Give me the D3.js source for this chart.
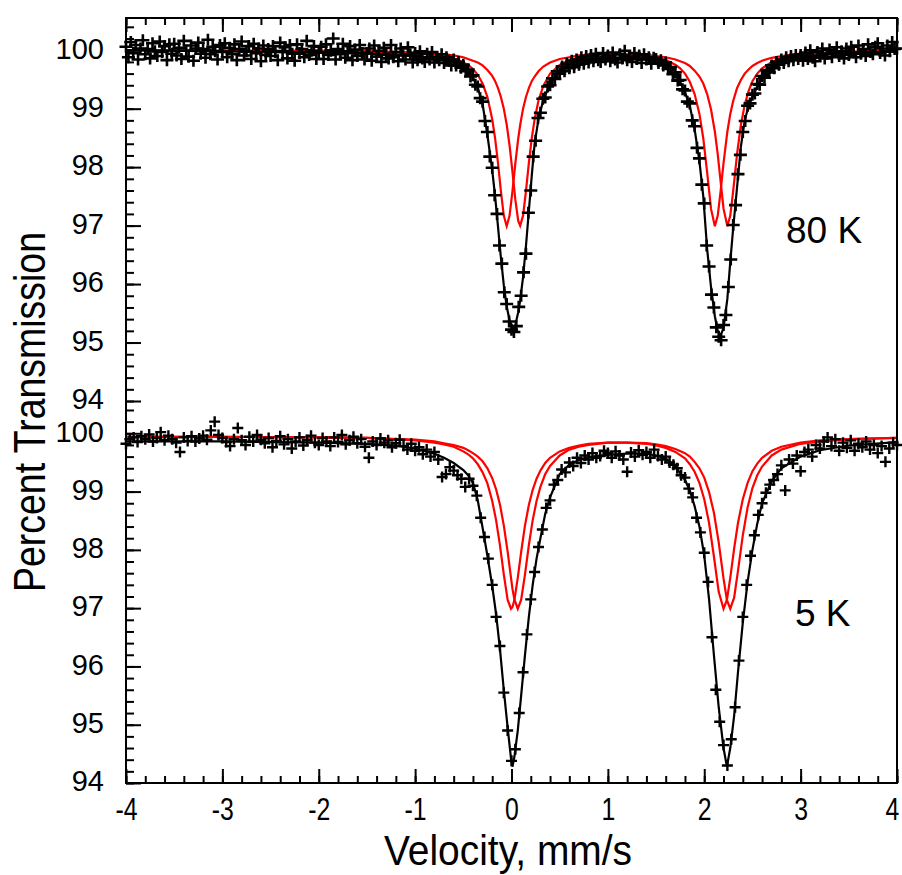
<!DOCTYPE html>
<html>
<head>
<meta charset="utf-8">
<script src="https://cdn.jsdelivr.net/npm/d3@7"></script>
<style>
  body { margin: 0; background: #fff; }
</style>
</head>
<body>
<div class="chart-area"></div>
<script>
// --- tick labels / panel labels
let velocityTicks = [-4, -3, -2, -1, 0, 1, 2, 3, 4];
let transmissionTicks = [94, 95, 96, 97, 98, 99, 100];
let panelLabels = ["80 K", "5 K"];

// --- 80 K spectrum: measured channels, start -4 mm/s, step 0.025 mm/s
let topStart = -4, topStep = 0.025;
let topCounts = [
  100.06, 99.88, 100.14, 99.95, 100.09, 99.84, 100.03, 100.17, 99.93, 100.02, 99.86, 100.12, 99.98, 99.90, 100.15, 99.97, 100.07, 99.83, 100.10, 99.94,
  100.11, 99.91, 100.04, 99.85, 100.16, 99.99, 99.89, 100.08, 99.82, 100.03, 100.13, 99.94, 100.02, 99.87, 100.18, 99.93, 100.06, 99.98, 99.84, 100.09,
  99.97, 100.12, 99.88, 100.04, 99.93, 100.10, 99.83, 100.02, 100.15, 99.91, 99.98, 100.07, 99.85, 100.11, 99.95, 100.03, 99.81, 100.08, 99.92, 100.02,
  99.90, 100.07, 99.97, 99.83, 100.13, 99.98, 100.05, 99.86, 100.09, 99.94, 99.82, 100.10, 99.95, 100.02, 99.88, 100.16, 99.92, 99.99, 100.07, 99.85,
  99.96, 100.06, 99.85, 100.10, 99.92, 99.99, 100.20, 99.84, 100.02, 99.93, 100.11, 99.87, 99.98, 100.07, 99.83, 100.01, 99.90, 100.09, 99.95, 99.84,
  99.95, 100.03, 99.82, 100.08, 99.89, 99.99, 99.80, 100.04, 99.92, 99.86, 100.09, 99.88, 99.97, 99.81, 100.03, 99.91, 99.84, 100.05, 99.93, 99.79,
  99.95, 99.83, 99.98, 99.86, 99.80, 99.94, 99.84, 99.97, 99.79, 99.88, 99.83, 99.93, 99.78, 99.88, 99.82, 99.74, 99.84, 99.74, 99.80, 99.70,
  99.75, 99.64, 99.67, 99.55, 99.57, 99.41, 99.38, 99.18, 99.12, 98.79, 98.60, 98.18, 97.99, 97.52, 97.20, 96.66, 96.35, 95.86, 95.66, 95.36,
  95.22, 95.18, 95.28, 95.61, 95.80, 96.20, 96.52, 97.22, 97.60, 98.18, 98.45, 98.84, 98.93, 99.17, 99.19, 99.38, 99.40, 99.52, 99.51, 99.64,
  99.60, 99.72, 99.64, 99.77, 99.69, 99.82, 99.71, 99.84, 99.75, 99.88, 99.77, 99.90, 99.79, 99.92, 99.81, 99.94, 99.83, 99.80, 99.95, 99.84,
  99.91, 99.81, 99.96, 99.84, 99.79, 99.93, 99.86, 99.99, 99.83, 99.89, 99.80, 99.95, 99.85, 99.91, 99.78, 99.93, 99.84, 99.88, 99.77, 99.87,
  99.85, 99.78, 99.83, 99.74, 99.79, 99.68, 99.71, 99.59, 99.62, 99.48, 99.49, 99.33, 99.31, 99.12, 99.09, 98.80, 98.70, 98.33, 98.15, 97.70,
  97.38, 96.66, 96.30, 95.82, 95.60, 95.26, 95.10, 95.04, 95.30, 95.47, 95.95, 96.42, 97.01, 97.35, 97.88, 98.21, 98.60, 98.79, 99.05, 99.09,
  99.24, 99.26, 99.42, 99.41, 99.56, 99.53, 99.66, 99.62, 99.74, 99.69, 99.80, 99.75, 99.84, 99.78, 99.88, 99.81, 99.90, 99.83, 99.92, 99.85,
  99.92, 99.82, 99.96, 99.85, 100.00, 99.87, 99.81, 99.97, 99.90, 100.03, 99.86, 99.94, 100.01, 99.88, 99.97, 100.05, 99.90, 99.98, 99.86, 100.03,
  99.92, 100.06, 99.96, 99.88, 100.08, 99.94, 100.02, 99.90, 100.10, 99.97, 99.93, 100.06, 100.12, 99.95, 100.03, 99.91, 100.08, 99.98, 100.14, 100.02,
  100.03
];

// --- 80 K fit curves (at these velocities)
let topFitVelocity = [-4, -3, -2, -1.5, -1.2, -1, -0.8, -0.7, -0.6, -0.5, -0.45, -0.4, -0.35, -0.3, -0.25, -0.2, -0.17, -0.14, -0.11, -0.08,
  -0.05, -0.02, 0.01, 0.04, 0.07, 0.09, 0.12, 0.15, 0.18, 0.21, 0.24, 0.28, 0.33, 0.4, 0.5, 0.6, 0.7, 0.8, 1.0, 1.2,
  1.4, 1.5, 1.6, 1.7, 1.75, 1.8, 1.85, 1.9, 1.95, 1.99, 2.03, 2.07, 2.11, 2.14, 2.17, 2.2, 2.24, 2.27, 2.3, 2.34,
  2.38, 2.42, 2.46, 2.5, 2.55, 2.6, 2.7, 2.8, 3.0, 3.2, 3.5, 4];
let topFitTotal = [100.00, 99.98, 99.96, 99.94, 99.92, 99.90, 99.87, 99.85, 99.81, 99.72, 99.64, 99.53, 99.36, 99.08, 98.55, 97.95, 97.50, 96.98, 96.45, 95.98,
  95.62, 95.38, 95.26, 95.30, 95.52, 95.72, 96.12, 96.65, 97.25, 97.85, 98.40, 98.82, 99.15, 99.42, 99.65, 99.76, 99.82, 99.85, 99.87, 99.87,
  99.85, 99.82, 99.76, 99.58, 99.45, 99.28, 99.05, 98.65, 98.10, 97.50, 96.60, 95.95, 95.45, 95.20, 95.12, 95.25, 95.75, 96.38, 96.95, 97.65,
  98.35, 98.80, 99.05, 99.20, 99.38, 99.52, 99.70, 99.80, 99.88, 99.92, 99.95, 99.98];
let topSiteA = [100.00, 99.99, 99.99, 99.98, 99.96, 99.95, 99.92, 99.90, 99.86, 99.79, 99.75, 99.68, 99.58, 99.43, 99.20, 98.82, 98.49, 98.07, 97.59, 97.17,
  96.99, 97.17, 97.59, 98.07, 98.49, 98.72, 99.00, 99.20, 99.35, 99.47, 99.55, 99.64, 99.72, 99.79, 99.85, 99.88, 99.91, 99.92, 99.93, 99.92,
  99.90, 99.87, 99.83, 99.75, 99.69, 99.60, 99.46, 99.25, 98.91, 98.49, 97.91, 97.29, 96.99, 97.17, 97.59, 98.07, 98.61, 98.91, 99.13, 99.35,
  99.49, 99.60, 99.67, 99.73, 99.78, 99.82, 99.87, 99.90, 99.94, 99.96, 99.97, 99.99];
let topSiteB = [100.00, 99.99, 99.99, 99.98, 99.97, 99.96, 99.94, 99.93, 99.91, 99.88, 99.85, 99.82, 99.79, 99.74, 99.66, 99.56, 99.47, 99.35, 99.20, 99.00,
  98.73, 98.37, 97.92, 97.44, 97.08, 97.00, 97.17, 97.59, 98.07, 98.49, 98.82, 99.14, 99.39, 99.60, 99.75, 99.83, 99.87, 99.90, 99.92, 99.93,
  99.92, 99.90, 99.88, 99.84, 99.81, 99.78, 99.73, 99.65, 99.55, 99.43, 99.25, 98.99, 98.61, 98.22, 97.75, 97.29, 96.99, 97.17, 97.59, 98.22,
  98.72, 99.07, 99.30, 99.47, 99.60, 99.69, 99.80, 99.86, 99.92, 99.95, 99.97, 99.98];

// --- 5 K spectrum: measured channels, start -4 mm/s, step 0.04 mm/s
let botStart = -4, botStep = 0.04;
let botCounts = [
  99.82, 99.90, 99.93, 99.85, 99.95, 99.90, 99.98, 99.86, 99.92, 100.02, 99.88, 99.96, 99.90, 99.84, 99.68, 99.93, 99.87, 99.95, 99.86, 99.91, 99.96, 99.89, 100.05, 100.20, 99.97,
  99.92, 99.85, 99.78, 99.90, 100.09, 99.88, 99.80, 99.94, 99.86, 99.97, 99.89, 99.83, 99.92, 99.76, 99.87, 99.95, 99.81, 99.90, 99.74, 99.86, 99.93, 99.79, 99.88, 99.96, 99.84,
  99.80, 99.92, 99.86, 99.78, 99.93, 99.85, 99.97, 99.81, 99.88, 99.94, 99.83, 99.90, 99.77, 99.58, 99.86, 99.80, 99.91, 99.84, 99.88, 99.76, 99.83, 99.89, 99.78, 99.72, 99.82,
  99.70, 99.76, 99.64, 99.72, 99.60, 99.68, 99.55, 99.25, 99.30, 99.42, 99.36, 99.28, 99.22, 99.08, 99.22, 99.10, 98.93, 98.55, 98.22, 97.85, 97.40, 96.85, 96.35, 95.55, 94.90,
  94.38, 94.58, 95.20, 95.90, 96.55, 97.15, 97.62, 98.05, 98.35, 98.72, 98.85, 99.12, 99.20, 99.38, 99.33, 99.50, 99.44, 99.58, 99.49, 99.62, 99.55, 99.66, 99.58, 99.61, 99.70,
  99.66, 99.58, 99.69, 99.62, 99.55, 99.34, 99.67, 99.60, 99.71, 99.63, 99.68, 99.58, 99.72, 99.61, 99.55, 99.60, 99.50, 99.46, 99.40, 99.28, 99.24, 99.05, 98.90, 98.55, 98.30,
  97.95, 97.45, 96.50, 95.60, 95.05, 94.65, 94.30, 94.75, 95.30, 96.10, 96.85, 97.40, 97.90, 98.25, 98.60, 98.80, 98.98, 99.12, 99.20, 99.30, 99.45, 99.02, 99.55, 99.48, 99.62,
  99.35, 99.68, 99.72, 99.60, 99.80, 99.74, 99.86, 99.93, 99.78, 99.90, 99.70, 99.84, 99.75, 99.88, 99.70, 99.82, 99.76, 99.86, 99.72, 99.80, 99.66, 99.78, 99.51, 99.74, 99.84,
  99.80
];

// --- 5 K fit curves
let botFitVelocity = [-4, -3, -2, -1.5, -1.2, -1, -0.8, -0.7, -0.6, -0.5, -0.45, -0.4, -0.35, -0.3, -0.25, -0.2, -0.16, -0.12, -0.08, -0.04,
  -0.005, 0.01, 0.03, 0.065, 0.1, 0.14, 0.18, 0.22, 0.26, 0.3, 0.35, 0.4, 0.5, 0.6, 0.7, 0.8, 1.0, 1.2, 1.4, 1.5,
  1.6, 1.7, 1.8, 1.85, 1.9, 1.95, 2.0, 2.05, 2.1, 2.15, 2.2, 2.235, 2.27, 2.31, 2.35, 2.4, 2.45, 2.5, 2.55, 2.6,
  2.7, 2.8, 3.0, 3.2, 3.5, 4];
let botFitTotal = [99.86, 99.86, 99.84, 99.82, 99.79, 99.74, 99.65, 99.58, 99.49, 99.37, 99.28, 99.15, 98.85, 98.38, 97.90, 97.38, 96.90, 96.30, 95.60, 94.95,
  94.42, 94.28, 94.45, 94.90, 95.50, 96.20, 96.85, 97.40, 97.85, 98.20, 98.62, 98.90, 99.30, 99.46, 99.54, 99.59, 99.63, 99.65, 99.65, 99.62,
  99.57, 99.43, 99.20, 99.02, 98.75, 98.40, 97.90, 97.15, 96.20, 95.30, 94.60, 94.28, 94.60, 95.15, 95.90, 96.75, 97.45, 98.00, 98.45, 98.80,
  99.18, 99.40, 99.60, 99.71, 99.79, 99.85];
let botSiteA = [99.94, 99.94, 99.93, 99.92, 99.90, 99.88, 99.84, 99.81, 99.77, 99.69, 99.64, 99.57, 99.47, 99.33, 99.14, 98.84, 98.51, 98.08, 97.58, 97.14,
  96.99, 97.02, 97.14, 97.52, 97.96, 98.42, 98.77, 99.03, 99.22, 99.36, 99.49, 99.58, 99.69, 99.75, 99.79, 99.82, 99.84, 99.84, 99.82, 99.79,
  99.75, 99.68, 99.57, 99.47, 99.34, 99.15, 98.87, 98.46, 97.89, 97.28, 96.99, 97.14, 97.52, 98.02, 98.46, 98.87, 99.15, 99.35, 99.48, 99.58,
  99.70, 99.77, 99.84, 99.88, 99.90, 99.92];
let botSiteB = [99.94, 99.94, 99.93, 99.92, 99.90, 99.89, 99.86, 99.83, 99.80, 99.75, 99.71, 99.66, 99.60, 99.52, 99.40, 99.23, 99.04, 98.78, 98.42, 97.97,
  97.52, 97.33, 97.15, 96.99, 97.14, 97.58, 98.08, 98.51, 98.84, 99.08, 99.30, 99.44, 99.62, 99.72, 99.77, 99.80, 99.84, 99.84, 99.83, 99.81,
  99.78, 99.73, 99.66, 99.60, 99.51, 99.40, 99.24, 98.99, 98.64, 98.13, 97.51, 97.14, 96.99, 97.18, 97.64, 98.25, 98.73, 99.06, 99.28, 99.43,
  99.62, 99.72, 99.82, 99.86, 99.90, 99.92];

let width = 902, height = 875;
let plotLeft = 126, plotRight = 897, plotTop = 18, plotBottom = 783;
let font = '"Liberation Sans", Arial, sans-serif';

let svg = d3.select("div.chart-area").append("svg")
  .attr("width", width)
  .attr("height", height);

let x = d3.scaleLinear().domain([-4, 4]).range([plotLeft, plotRight]);
let yTop = d3.scaleLinear().domain([94, 100]).range([401, 50.2]);
let yBot = d3.scaleLinear().domain([94, 100]).range([plotBottom, 433.3]);

function zip(vs, ts) { return vs.map((v, i) => [v, ts[i]]); }

// narrow look: squeeze the measured text width
function squeeze(sel, k) {
  sel.each(function() {
    let w = this.getComputedTextLength();
    d3.select(this).attr("textLength", w * k).attr("lengthAdjust", "spacingAndGlyphs");
  });
}

function drawPanel(y, fitV, siteA, siteB, total, start, step, counts, armW, armH, sw) {
  let line = d3.line()
    .x(d => x(d[0]))
    .y(d => y(d[1]));

  [siteA, siteB].forEach(function(s) {
    svg.append("path")
      .attr("d", line(zip(fitV, s)))
      .attr("fill", "none")
      .attr("stroke", "#ff0000")
      .attr("stroke-width", 2.2);
  });

  svg.append("path")
    .attr("d", line(zip(fitV, total)))
    .attr("fill", "none")
    .attr("stroke", "#000")
    .attr("stroke-width", 2.2);

  let pts = counts.map((t, i) => [start + i * step, t]);
  svg.append("g").selectAll("path")
    .data(pts)
    .enter().append("path")
    .attr("transform", d => "translate(" + x(d[0]) + "," + y(d[1]) + ")")
    .attr("d", "M" + (-armW) + ",0H" + armW + "M0," + (-armH) + "V" + armH)
    .attr("stroke", "#000")
    .attr("stroke-width", sw)
    .attr("fill", "none");
}

drawPanel(yTop, topFitVelocity, topSiteA, topSiteB, topFitTotal, topStart, topStep, topCounts, 6.5, 6, 2.6);
drawPanel(yBot, botFitVelocity, botSiteA, botSiteB, botFitTotal, botStart, botStep, botCounts, 5.5, 5.5, 2.4);

// --- frame
svg.append("rect")
  .attr("x", plotLeft).attr("y", plotTop)
  .attr("width", plotRight - plotLeft).attr("height", plotBottom - plotTop)
  .attr("fill", "none")
  .attr("stroke", "#000")
  .attr("stroke-width", 2);

function cleanTicks(g) {
  g.select(".domain").remove();
  g.selectAll("line").attr("stroke", "#000").attr("stroke-width", 2);
}

let xMinor = d3.range(41).map(i => -4 + i * 0.2);

// bottom ticks (pointing up) and top ticks (pointing down)
svg.append("g").attr("transform", "translate(0," + plotBottom + ")")
  .call(d3.axisTop(x).tickValues(xMinor).tickSize(7).tickFormat(""))
  .call(cleanTicks);
svg.append("g").attr("transform", "translate(0," + plotBottom + ")")
  .call(d3.axisTop(x).tickValues(velocityTicks).tickSize(14).tickFormat(""))
  .call(cleanTicks);
svg.append("g").attr("transform", "translate(0," + plotTop + ")")
  .call(d3.axisBottom(x).tickValues(xMinor).tickSize(7).tickFormat(""))
  .call(cleanTicks);
svg.append("g").attr("transform", "translate(0," + plotTop + ")")
  .call(d3.axisBottom(x).tickValues(velocityTicks).tickSize(14).tickFormat(""))
  .call(cleanTicks);

// x labels
let xLabels = svg.append("g").attr("transform", "translate(0," + plotBottom + ")")
  .call(d3.axisBottom(x).tickValues(velocityTicks).tickSize(0).tickPadding(15).tickFormat(d => String(d)))
  .call(g => g.select(".domain").remove())
  .selectAll("text")
  .attr("font-family", font)
  .attr("font-size", 31)
  .attr("fill", "#000")
  .attr("dx", d => d === 4 ? -5 : 0);
squeeze(xLabels, 0.8);

// y ticks and labels for both panels
[yTop, yBot].forEach(function(y) {
  let minor = d3.range(33).map(i => 94 + i * 0.2);
  svg.append("g").attr("transform", "translate(" + plotLeft + ",0)")
    .call(d3.axisRight(y).tickValues(minor).tickSize(8).tickFormat(""))
    .call(cleanTicks);
  svg.append("g").attr("transform", "translate(" + plotLeft + ",0)")
    .call(d3.axisRight(y).tickValues(transmissionTicks).tickSize(15).tickFormat(""))
    .call(cleanTicks);
  svg.append("g").attr("transform", "translate(" + plotLeft + ",0)")
    .call(d3.axisLeft(y).tickValues(transmissionTicks).tickSize(0).tickPadding(22).tickFormat(d => String(d)))
    .call(g => g.select(".domain").remove())
    .selectAll("text")
    .attr("dy", "0.27em")
    .attr("font-family", font)
    .attr("font-size", 29)
    .attr("fill", "#000");
});

// axis titles
svg.append("text")
  .attr("x", 508).attr("y", 865)
  .attr("text-anchor", "middle")
  .attr("font-family", font)
  .attr("font-size", 42)
  .attr("textLength", 248)
  .attr("lengthAdjust", "spacingAndGlyphs")
  .text("Velocity, mm/s");

svg.append("text")
  .attr("transform", "translate(45,412) rotate(-90)")
  .attr("text-anchor", "middle")
  .attr("font-family", font)
  .attr("font-size", 44)
  .attr("textLength", 360)
  .attr("lengthAdjust", "spacingAndGlyphs")
  .text("Percent Transmission");

// temperature labels
svg.append("text")
  .attr("x", 786).attr("y", 243)
  .attr("font-family", font)
  .attr("font-size", 37)
  .text(panelLabels[0]);
svg.append("text")
  .attr("x", 795).attr("y", 626)
  .attr("font-family", font)
  .attr("font-size", 37)
  .text(panelLabels[1]);
</script>
</body>
</html>
